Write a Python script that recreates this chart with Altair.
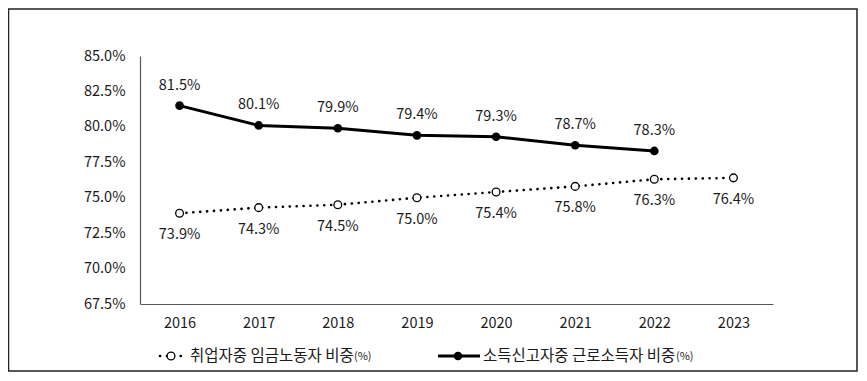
import altair as alt
import pandas as pd

years = ["2016", "2017", "2018", "2019", "2020", "2021", "2022", "2023"]
wage_share = [73.9, 74.3, 74.5, 75.0, 75.4, 75.8, 76.3, 76.4]
income_share = [81.5, 80.1, 79.9, 79.4, 79.3, 78.7, 78.3, None]
y_ticks = [67.5, 70.0, 72.5, 75.0, 77.5, 80.0, 82.5, 85.0]
legend_labels = ["취업자중 임금노동자 비중", "소득신고자중 근로소득자 비중"]
legend_unit = "(%)"

FONT = "Noto Sans CJK KR"
FS = 14.5
W, H = 633, 248

wage_df = pd.DataFrame({"year": years, "v": wage_share})
inc_df = pd.DataFrame({"year": years, "v": income_share}).dropna()
wage_df["lab"] = wage_df["v"].map(lambda v: f"{v:.1f}%")
inc_df["lab"] = inc_df["v"].map(lambda v: f"{v:.1f}%")

xenc = alt.X("year:N", sort=years, title=None,
             scale=alt.Scale(paddingInner=0, paddingOuter=0, align=0.5),
             axis=alt.Axis(labelAngle=0, labelPadding=12))
yscale = alt.Scale(domain=[67.5, 85.0], nice=False, zero=False)
yenc = alt.Y("v:Q", scale=yscale, title=None,
             axis=alt.Axis(values=y_ticks, labelExpr="format(datum.value, '.1f') + '%'",
                           labelPadding=15))

wage_line = alt.Chart(wage_df).mark_line(
    color="black", strokeWidth=2.6, strokeDash=[0.1, 6.8], strokeCap="round"
).encode(x=xenc, y=yenc)
wage_pts = alt.Chart(wage_df).mark_point(
    filled=True, fill="white", stroke="black", strokeWidth=1.3, size=60, opacity=1
).encode(x=xenc, y=yenc)
wage_txt = alt.Chart(wage_df).mark_text(
    dy=22, font=FONT, fontSize=FS, color="#1a1a1a"
).encode(x=xenc, y=yenc, text="lab:N")

inc_line = alt.Chart(inc_df).mark_line(color="black", strokeWidth=3).encode(x=xenc, y=yenc)
inc_pts = alt.Chart(inc_df).mark_circle(color="black", size=75, opacity=1).encode(x=xenc, y=yenc)
inc_txt = alt.Chart(inc_df).mark_text(
    dy=-20, font=FONT, fontSize=FS, color="#1a1a1a"
).encode(x=xenc, y=yenc, text="lab:N")

one = pd.DataFrame({"a": [0]})
border = alt.Chart(one).mark_rect(fillOpacity=0, stroke="#222", strokeWidth=1.5).encode(
    x=alt.value(-131.5), x2=alt.value(717), y=alt.value(-47), y2=alt.value(315))

LY = 300
leg1_line = alt.Chart(one).mark_rule(
    color="black", strokeWidth=2.6, strokeDash=[0.1, 6.8], strokeCap="round"
).encode(x=alt.value(20), x2=alt.value(43), y=alt.value(LY))
leg1_pt = alt.Chart(one).mark_point(
    filled=True, fill="white", stroke="black", strokeWidth=1.3, size=60, opacity=1
).encode(x=alt.value(31), y=alt.value(LY))
leg1_txt = alt.Chart(pd.DataFrame({"t": [legend_labels[0]]})).mark_text(
    align="left", baseline="middle", font=FONT, fontSize=15.5, color="#1a1a1a"
).encode(x=alt.value(50), y=alt.value(LY), text="t:N")
leg1_unit = alt.Chart(pd.DataFrame({"t": [legend_unit]})).mark_text(
    align="left", baseline="middle", font=FONT, fontSize=11, color="#1a1a1a", dy=1
).encode(x=alt.value(214), y=alt.value(LY), text="t:N")

leg2_line = alt.Chart(one).mark_rule(color="black", strokeWidth=3).encode(
    x=alt.value(298), x2=alt.value(340), y=alt.value(LY))
leg2_pt = alt.Chart(one).mark_circle(color="black", size=75, opacity=1).encode(
    x=alt.value(318), y=alt.value(LY))
leg2_txt = alt.Chart(pd.DataFrame({"t": [legend_labels[1]]})).mark_text(
    align="left", baseline="middle", font=FONT, fontSize=15.5, color="#1a1a1a"
).encode(x=alt.value(343), y=alt.value(LY), text="t:N")
leg2_unit = alt.Chart(pd.DataFrame({"t": [legend_unit]})).mark_text(
    align="left", baseline="middle", font=FONT, fontSize=11, color="#1a1a1a", dy=1
).encode(x=alt.value(536), y=alt.value(LY), text="t:N")

chart = alt.layer(
    border, wage_line, wage_pts, wage_txt, inc_line, inc_pts, inc_txt,
    leg1_line, leg1_pt, leg1_txt, leg1_unit, leg2_line, leg2_pt, leg2_txt, leg2_unit
).properties(
    width=W, height=H,
    autosize=alt.AutoSizeParams(type="none"),
    padding={"left": 132, "top": 48, "right": 86, "bottom": 69},
    background="white",
).configure_view(stroke=None).configure_axis(
    domainColor="#595959", domainWidth=1.2, ticks=False, grid=False,
    labelFont=FONT, labelFontSize=FS, labelColor="#1a1a1a"
)

chart.save("out.html", embed_options={"renderer": "svg", "actions": False})
